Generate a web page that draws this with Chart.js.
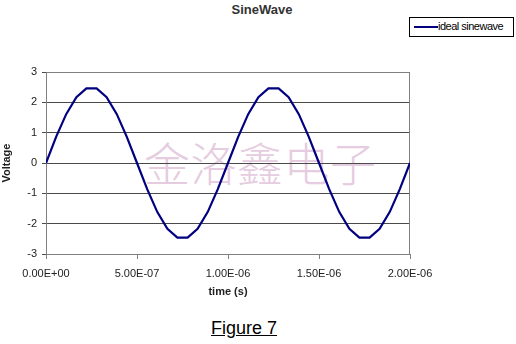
<!DOCTYPE html>
<html>
<head>
<meta charset="utf-8">
<script src="https://cdn.jsdelivr.net/npm/chart.js@4"></script>
<style>
  html, body { margin: 0; padding: 0; background: #fff; }
  #wrap { position: relative; width: 516px; height: 344px; font-family: "Liberation Sans", Arial, sans-serif; }
  #myChart { position: absolute; left: 0; top: 0; z-index: 2; }
  .txt { position: absolute; white-space: nowrap; }
  #title { left: 0; width: 516px; top: 2px; text-align: center; font-weight: bold; font-size: 13px; color: #333; padding-left: 4px; }
  #legend { left: 409px; top: 17px; width: 105px; height: 20px; border: 1px solid #000; box-sizing: border-box; font-size: 11px; color: #000; }
  #legend span.ln { position: absolute; left: 4px; top: 8px; width: 24px; height: 2px; background: #000080; }
  #legend span.lb { position: absolute; left: 28px; top: 2px; letter-spacing: -0.5px; }
  #mark { left: 144px; top: 128px; font-family: "Noto Sans CJK SC"; font-weight: 300; font-size: 46px; letter-spacing: 0.5px; color: #e6cce0; z-index: 1; }
  #caption { left: 0; width: 488px; top: 318px; text-align: center; font-size: 18px; text-decoration: underline; color: #000; }
</style>
</head>
<body>
<div id="wrap">
  <div id="mark" class="txt">金洛鑫电子</div>
  <canvas id="myChart" width="516" height="344"></canvas>
  <div id="title" class="txt">SineWave</div>
  <div id="legend" class="txt"><span class="ln"></span><span class="lb">ideal sinewave</span></div>
  <div id="caption" class="txt">Figure 7</div>
</div>
<script>
const times = [0, 5.56e-8, 1.11e-7, 1.67e-7, 2.22e-7, 2.78e-7, 3.33e-7, 3.89e-7, 4.44e-7,
  5.00e-7, 5.56e-7, 6.11e-7, 6.67e-7, 7.22e-7, 7.78e-7, 8.33e-7, 8.89e-7, 9.44e-7,
  1.000e-6, 1.056e-6, 1.111e-6, 1.167e-6, 1.222e-6, 1.278e-6, 1.333e-6, 1.389e-6, 1.444e-6,
  1.500e-6, 1.556e-6, 1.611e-6, 1.667e-6, 1.722e-6, 1.778e-6, 1.833e-6, 1.889e-6, 1.944e-6,
  2.000e-6];
const voltage = [0, 0.86, 1.61, 2.17, 2.46, 2.46, 2.17, 1.61, 0.86,
  0, -0.86, -1.61, -2.17, -2.46, -2.46, -2.17, -1.61, -0.86,
  0, 0.86, 1.61, 2.17, 2.46, 2.46, 2.17, 1.61, 0.86,
  0, -0.86, -1.61, -2.17, -2.46, -2.46, -2.17, -1.61, -0.86,
  0];
const xTicks = [0, 5e-7, 1e-6, 1.5e-6, 2e-6];
const seriesName = 'ideal sinewave';

function sci(v) {
  let s = Number(v).toExponential(2).toUpperCase();
  return s.replace(/E([+-])(\d)$/, 'E$10$2');
}

const frame = {
  id: 'frame',
  beforeDatasetsDraw(chart) {
    const a = chart.chartArea, c = chart.ctx;
    c.save();
    c.strokeStyle = '#808080';
    c.lineWidth = 1;
    c.strokeRect(a.left + 0.5, a.top + 0.5, a.right - a.left - 1, a.bottom - a.top);
    c.restore();
  }
};

const ctx = document.getElementById('myChart').getContext('2d');
const chart = new Chart(ctx, {
  type: 'scatter',
  data: {
    datasets: [{
      label: seriesName,
      data: times.map((t, i) => ({ x: t, y: voltage[i] })),
      showLine: true,
      borderColor: '#000080',
      borderWidth: 2.2,
      pointRadius: 0,
      tension: 0
    }]
  },
  options: {
    responsive: false,
    animation: false,
    layout: { padding: { top: 72, left: 0, right: 106, bottom: 41 } },
    plugins: { legend: { display: false }, title: { display: false }, tooltip: { enabled: false } },
    scales: {
      x: {
        type: 'linear',
        min: 0, max: 2e-6,
        afterFit(s) { s.height = 49; },
        afterBuildTicks(s) { s.ticks = xTicks.map(v => ({ value: v })); },
        ticks: { callback: v => sci(v), color: '#222', font: { family: 'Liberation Sans', size: 11 }, maxRotation: 0, padding: 8 },
        grid: { drawOnChartArea: false, drawTicks: true, tickLength: 5, color: '#808080' },
        border: { color: '#808080' },
        title: { display: true, text: 'time (s)', color: '#222', font: { family: 'Liberation Sans', size: 11, weight: 'bold' }, padding: { top: 1 } }
      },
      y: {
        min: -3, max: 3,
        afterFit(s) { s.width = 46; },
        ticks: { stepSize: 1, color: '#222', font: { family: 'Liberation Sans', size: 11 }, padding: 5 },
        grid: { color: '#4a4a4a', tickLength: 4, lineWidth: 1 },
        border: { color: '#808080' },
        title: { display: true, text: 'Voltage', color: '#222', font: { family: 'Liberation Sans', size: 11, weight: 'bold' }, padding: 0 }
      }
    }
  },
  plugins: [frame]
});
</script>
</body>
</html>
